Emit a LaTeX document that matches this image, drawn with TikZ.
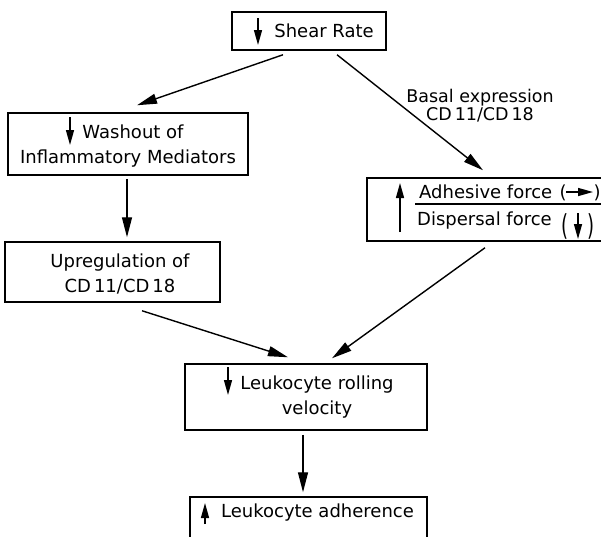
\documentclass[tikz,border=0pt]{standalone}
\usepackage{fontspec}
\setmainfont{DejaVu Sans}
\usetikzlibrary{arrows.meta}
\tikzset{
	box/.style={draw, line width=1.5pt, inner sep=0pt},
	lbl/.style={font=\fontsize{18}{25}\selectfont, align=center, inner sep=0pt},
	link/.style={line width=1.4pt, -{Triangle[length=20pt,width=10pt]}},
	sym/.style={line width=1.4pt, -{Triangle[length=15pt,width=8pt]}}
}
\begin{document}
\begin{tikzpicture}[x=1pt,y=-1pt]
			\clip (0,0) rectangle (601,536);

			% Boxes
			\node[box, minimum width=154pt, minimum height=38pt] (shear) at (309,31) {};
			\node[box, minimum width=240pt, minimum height=62pt] (washout) at (128,144) {};
			\node[box, minimum width=237pt, minimum height=63pt] (force) at (485.5,209.5) {};
			\node[box, minimum width=215pt, minimum height=60pt] (upreg) at (112.5,272) {};
			\node[box, minimum width=242pt, minimum height=66pt] (rolling) at (306,397) {};
			\node[box, minimum width=237pt, minimum height=66pt] (adher) at (308.5,530) {};

			% Box texts
			\node[lbl] (sheartxt) at (324,31) {Shear Rate};
			\node[lbl] (washtxt) at (128,146) {\hspace*{10pt}Washout of\\Inflammatory Mediators};
			\node[lbl] (upregtxt) at (120,274) {Upregulation of\\CD\,11/CD\,18};
			\node[lbl] (rolltxt) at (317,397) {Leukocyte rolling\\velocity};
			\node[lbl] (adhertxt) at (317.5,513) {Leukocyte adherence};
			\node[lbl, anchor=base west] (adhtxt) at (419,198) {Adhesive force};
			\node[lbl, anchor=base west] (disptxt) at (417,225) {Dispersal force};
			\node[lbl, anchor=base] (lpa) at (563,198) {(};
			\node[lbl, anchor=base] (rpa) at (597,198) {)};
			\node[lbl] (lpd) at (565,226) {\scalebox{1}[1.6]{(}};
			\node[lbl] (rpd) at (591,226) {\scalebox{1}[1.6]{)}};
			\draw[line width=1.4pt] (415,204) -- (604,204);

			% Up and down signs
			\draw[sym] (258,18) -- (258,45);
			\draw[sym] (70,117) -- (70,145);
			\draw[sym] (400,232) -- (400,183);
			\draw[sym] (566,192) -- (593,192);
			\draw[sym] (578,213) -- (578,239);
			\draw[sym] (228,367) -- (228,395);
			\draw[sym] (205,524) -- (205,503);

			% Label
			\node[lbl, font=\fontsize{17.5}{18}\selectfont] (basal) at (480,106) {Basal expression\\CD\,11/CD\,18};

			% Connectors
			\draw[link] ([shift={(-26,4)}]shear.south) -- ([shift={(9,-7)}]washout.north);
			\draw[link] ([shift={(28,4)}]shear.south) -- ([shift={(-2.5,-7)}]force.north);
			\draw[link] ([shift={(-1,3)}]washout.south) -- ([shift={(14.5,-4)}]upreg.north);
			\draw[link] ([shift={(29.5,8)}]upreg.south) -- ([shift={(-18,-6)}]rolling.north);
			\draw[link] ([shift={(-0.5,6)}]force.south) -- ([shift={(26,-5)}]rolling.north);
			\draw[link] ([shift={(-3,4)}]rolling.south) -- ([shift={(-5.5,-4)}]adher.north);
		\end{tikzpicture}
\end{document}
